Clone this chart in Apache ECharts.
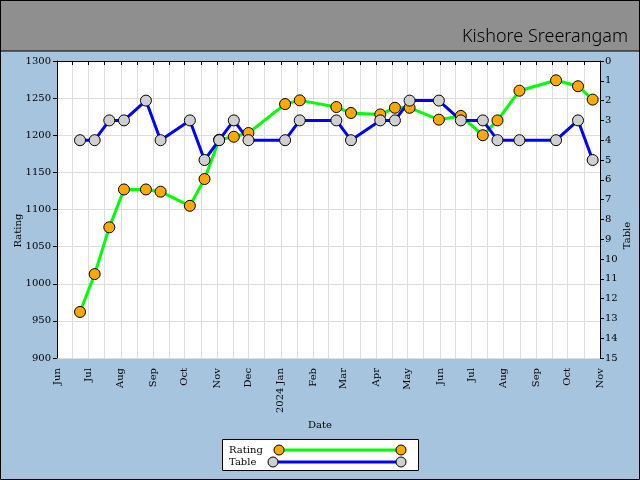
<!DOCTYPE html>
<html><head><meta charset="utf-8">
<script src="https://cdn.jsdelivr.net/npm/echarts@6/dist/echarts.min.js"></script>
<style>html,body{margin:0;padding:0;background:#a6c4de}#c{width:640px;height:480px}</style>
</head><body><div id="c"></div>
<script>
const dates = ['2023-06-23','2023-07-07','2023-07-21','2023-08-04','2023-08-25','2023-09-08','2023-10-06','2023-10-20','2023-11-03','2023-11-17','2023-12-01','2024-01-05','2024-01-19','2024-02-23','2024-03-08','2024-04-05','2024-04-19','2024-05-03','2024-05-31','2024-06-21','2024-07-12','2024-07-26','2024-08-16','2024-09-20','2024-10-11','2024-10-25'];
const rating = [962,1013,1076,1127,1127,1124,1105,1141,1194,1198,1203,1242,1247,1238,1230,1228,1237,1237,1221,1226,1200,1220,1260,1274,1266,1248];
const table = [4,4,3,3,2,4,3,5,4,3,4,4,3,3,4,3,3,2,2,3,3,4,4,4,3,5];
const monthNames = ['Jan','Feb','Mar','Apr','May','Jun','Jul','Aug','Sep','Oct','Nov','Dec'];
const titleText = 'Kishore Sreerangam';

const FONT = 'DejaVu Serif';
const chart = echarts.init(document.getElementById('c'), null, {renderer:'canvas'});
const toDate = s => { const p = s.split('-').map(Number); return Date.UTC(p[0], p[1]-1, p[2]); };

chart.setOption({
  backgroundColor: '#a6c4de',
  animation: false,
  textStyle: {fontFamily: FONT},
  title: {text: titleText, right: 7, top: 23, textStyle: {fontFamily: 'Noto Sans', fontWeight: 300, fontSize: 18, color: '#000'}},
  grid: {left: 57, right: 40, top: 61, bottom: 122, show: true, backgroundColor: '#fff', borderWidth: 0, outerBoundsMode: 'none', containLabel: false},
  xAxis: {
    type: 'time', min: toDate('2023-06-01'), max: toDate('2024-11-01'), splitNumber: 17,
    name: 'Date', nameLocation: 'middle', nameGap: 62, nameMoveOverlap: false,
    nameTextStyle: {fontFamily: FONT, fontSize: 10, color: '#000', padding: [0, 17, 0, 0]},
    axisLine: {show: true, lineStyle: {color: '#000', width: 1}},
    axisTick: {show: true, length: 4, lineStyle: {color: '#000'}},
    minorTick: {show: true, splitNumber: 2, length: 4, lineStyle: {color: '#000'}},
    splitLine: {show: true, lineStyle: {color: '#dddddd', width: 1}},
    minorSplitLine: {show: true, lineStyle: {color: '#dddddd', width: 1}},
    axisLabel: {
      rotate: 90, margin: 10, fontFamily: FONT, fontSize: 10, color: '#000', hideOverlap: false,
      formatter: function (v) {
        const d = new Date(v);
        const m = d.getUTCMonth();
        return m === 0 ? d.getUTCFullYear() + ' ' + monthNames[m] : monthNames[m];
      }
    }
  },
  yAxis: [{
    type: 'value', min: 900, max: 1300, interval: 50, position: 'left',
    name: 'Rating', nameLocation: 'middle', nameGap: 34, nameRotate: 90, nameMoveOverlap: false,
    nameTextStyle: {fontFamily: FONT, fontSize: 10, color: '#000', padding: [0, 42, 0, 0]},
    axisLine: {show: true, lineStyle: {color: '#000'}},
    axisTick: {show: true, length: 4, lineStyle: {color: '#000'}},
    axisLabel: {margin: 6, fontFamily: FONT, fontSize: 10, color: '#000', formatter: v => String(v)},
    splitLine: {show: true, lineStyle: {color: '#dddddd'}}
  }, {
    type: 'value', min: 0, max: 15, interval: 1, position: 'right', inverse: true,
    name: 'Table', nameLocation: 'middle', nameGap: 22, nameRotate: 90, nameMoveOverlap: false,
    nameTextStyle: {fontFamily: FONT, fontSize: 10, color: '#000', padding: [0, 52, 0, 0]},
    axisLine: {show: true, lineStyle: {color: '#000'}},
    axisTick: {show: true, length: 4, lineStyle: {color: '#000'}},
    axisLabel: {margin: 5, fontFamily: FONT, fontSize: 10, color: '#000', formatter: v => String(v)},
    splitLine: {show: false}
  }],
  series: [{
    name: 'Rating', type: 'line', yAxisIndex: 0,
    data: dates.map((d, i) => [toDate(d), rating[i]]),
    symbol: 'circle', symbolSize: 11,
    lineStyle: {color: '#00ff00', width: 3},
    itemStyle: {color: '#ffa800', borderColor: '#000', borderWidth: 1}
  }, {
    name: 'Table', type: 'line', yAxisIndex: 1,
    data: dates.map((d, i) => [toDate(d), table[i]]),
    symbol: 'circle', symbolSize: 11,
    lineStyle: {color: '#0000ff', width: 3},
    itemStyle: {color: '#d0d0d0', borderColor: '#000', borderWidth: 1}
  }],
  graphic: [
    {type: 'rect', z: -1, shape: {x: 0, y: 0, width: 640, height: 51}, style: {fill: '#8f8f8f', stroke: '#000', lineWidth: 1}},
    {type: 'rect', z: 100, shape: {x: 0.5, y: 0.5, width: 639, height: 479}, style: {fill: 'none', stroke: '#000', lineWidth: 1}},
    {type: 'group', left: 222, top: 439, children: [
      {type: 'rect', shape: {x: 0.5, y: 0.5, width: 196, height: 31}, style: {fill: '#fff', stroke: '#000', lineWidth: 1}},
      {type: 'text', x: 7, y: 11, style: {text: 'Rating', fontFamily: FONT, fontSize: 10, fill: '#000', verticalAlign: 'middle'}},
      {type: 'text', x: 7, y: 23, style: {text: 'Table', fontFamily: FONT, fontSize: 10, fill: '#000', verticalAlign: 'middle'}},
      {type: 'line', shape: {x1: 57, y1: 11, x2: 179, y2: 11}, style: {stroke: '#00ff00', lineWidth: 3}},
      {type: 'circle', shape: {cx: 57, cy: 11, r: 5}, style: {fill: '#ffa800', stroke: '#000', lineWidth: 1}},
      {type: 'circle', shape: {cx: 179, cy: 11, r: 5}, style: {fill: '#ffa800', stroke: '#000', lineWidth: 1}},
      {type: 'line', shape: {x1: 51, y1: 23, x2: 179, y2: 23}, style: {stroke: '#0000ff', lineWidth: 3}},
      {type: 'circle', shape: {cx: 51, cy: 23, r: 5}, style: {fill: '#d0d0d0', stroke: '#000', lineWidth: 1}},
      {type: 'circle', shape: {cx: 179, cy: 23, r: 5}, style: {fill: '#d0d0d0', stroke: '#000', lineWidth: 1}}
    ]}
  ]
});
</script></body></html>
